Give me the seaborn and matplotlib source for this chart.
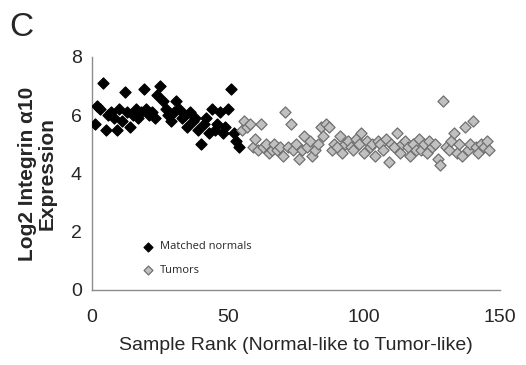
import matplotlib
matplotlib.use("Agg")
import matplotlib.pyplot as plt
import seaborn as sns
import pandas as pd

normal_vals = [5.7, 6.3, 6.2, 7.1, 5.5, 6.0, 6.1, 5.9, 5.5, 6.2,
               5.8, 6.8, 6.1, 5.6, 6.0, 6.2, 5.9, 6.1, 6.9, 6.2,
               6.0, 6.1, 5.9, 6.7, 7.0, 6.5, 6.2, 6.0, 5.8, 6.1,
               6.5, 6.2, 5.9, 6.0, 5.6, 6.1, 5.8, 5.9, 5.5, 5.0,
               5.7, 5.9, 5.4, 6.2, 5.5, 5.7, 6.1, 5.4, 5.6, 6.2,
               6.9, 5.4, 5.1, 4.9]
tumor_vals = [5.5, 5.8, 5.6, 5.7, 4.9, 5.2, 4.8, 5.7, 4.9, 5.0,
              4.7, 4.8, 5.0, 4.8, 4.9, 4.6, 6.1, 4.9, 5.7, 4.8,
              5.0, 4.5, 4.8, 5.3, 4.9, 5.1, 4.6, 4.8, 5.0, 5.6,
              5.3, 5.7, 5.6, 4.8, 5.0, 4.9, 5.3, 4.7, 5.0, 5.1,
              4.9, 4.8, 5.2, 5.0, 5.4, 4.7, 5.1, 4.9, 5.0, 4.6,
              5.1, 5.0, 4.8, 5.2, 4.4, 5.0, 4.9, 5.4, 4.7, 5.0,
              5.1, 4.9, 4.6, 5.0, 4.8, 5.2, 4.8, 5.0, 4.7, 5.1,
              4.9, 5.0, 4.5, 4.3, 6.5, 4.9, 4.8, 5.1, 5.4, 4.7,
              5.0, 4.6, 5.6, 4.8, 5.0, 5.8, 4.9, 4.7, 5.0, 4.9,
              5.1, 4.8]
normal_rank = list(range(1, len(normal_vals) + 1))
tumor_rank = list(range(len(normal_vals) + 1, len(normal_vals) + len(tumor_vals) + 1))
groups = ["Matched normals", "Tumors"]
x_ticks = [0, 50, 100, 150]
y_ticks = [0, 2, 4, 6, 8]

df = pd.DataFrame({
    "rank": normal_rank + tumor_rank,
    "value": normal_vals + tumor_vals,
    "group": [groups[0]] * len(normal_vals) + [groups[1]] * len(tumor_vals),
})

sns.set_style("white")
plt.rcParams["font.family"] = ["Liberation Sans", "DejaVu Sans"]

fig = plt.figure(figsize=(5.26, 3.65), dpi=100)
ax = fig.add_axes([0.175, 0.2055, 0.776, 0.6385])

for g, fc, ec in [(groups[0], "black", "black"), (groups[1], "#c0c0c0", "#707070")]:
    sub = df[df["group"] == g]
    sns.scatterplot(data=sub, x="rank", y="value", marker="D", s=32,
                    color=fc, edgecolor=ec, linewidth=0.9, ax=ax, label=g, zorder=3)

ax.set_xlim(0, 150)
ax.set_ylim(0, 8)
ax.set_xticks(x_ticks)
ax.set_yticks(y_ticks)
for side in ["top", "right"]:
    ax.spines[side].set_visible(False)
for side in ["left", "bottom"]:
    ax.spines[side].set_color("#8c8c8c")
    ax.spines[side].set_linewidth(1.0)
ax.tick_params(axis="both", direction="inout", length=7, width=1.0, color="#8c8c8c",
               labelsize=14, pad=4)
ax.tick_params(axis="x", pad=10)
ax.set_xlabel("Sample Rank (Normal-like to Tumor-like)", fontsize=14, labelpad=8)
ax.set_ylabel("Log2 Integrin \u03b110\nExpression", fontsize=15, fontweight="bold",
              linespacing=1.05, labelpad=10)

leg = ax.legend(loc="lower left", bbox_to_anchor=(0.10, 0.04), frameon=False,
                fontsize=8, handletextpad=0.0, labelspacing=1.15, markerscale=0.8,
                borderaxespad=0)
for t in leg.get_texts():
    t.set_fontfamily(["Open Sans", "DejaVu Sans"])

fig.text(0.018, 0.9, "C", fontsize=24)

fig.savefig("out.png", dpi=100, facecolor="white")
